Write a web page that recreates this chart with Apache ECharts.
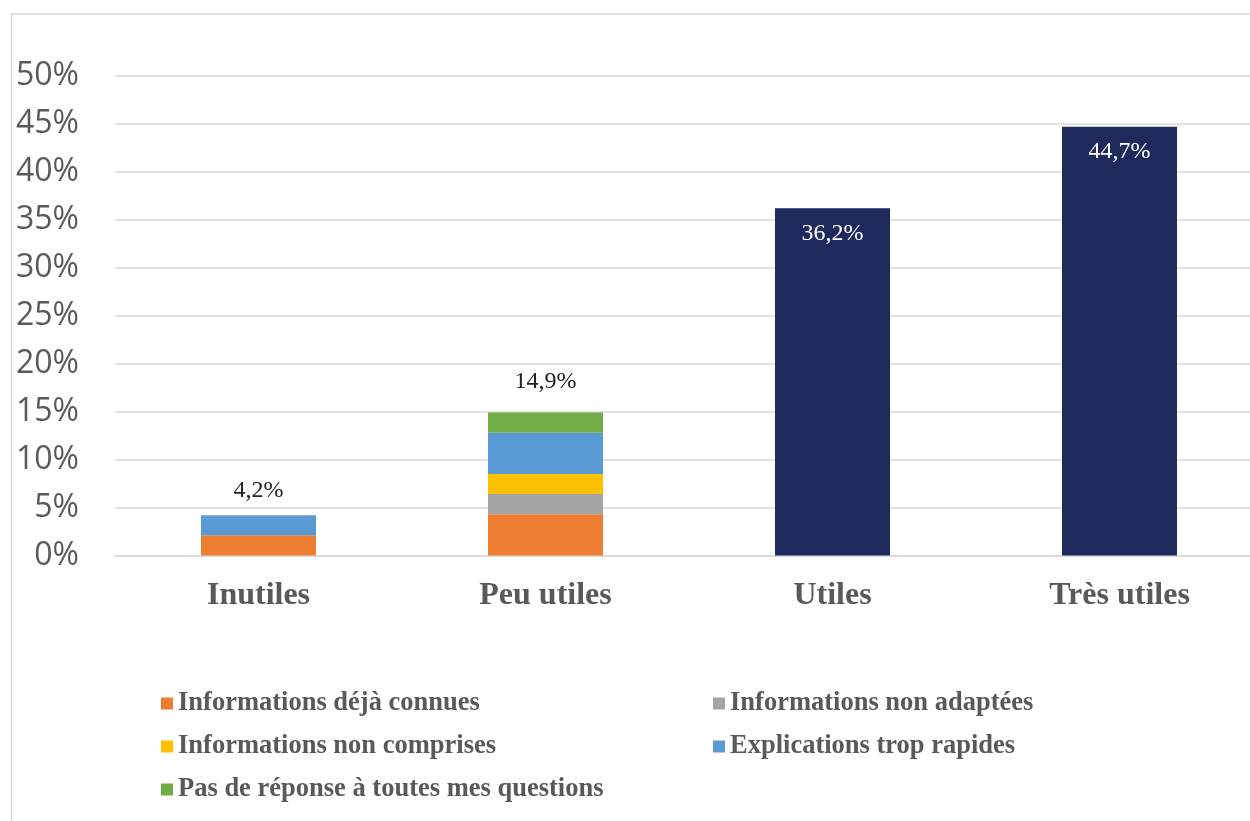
<!DOCTYPE html>
<html>
<head>
<meta charset="utf-8">
<script src="https://cdn.jsdelivr.net/npm/echarts@6/dist/echarts.min.js"></script>
<style>
  html, body { margin: 0; padding: 0; background: #fff; overflow: hidden; }
  #chart { width: 1265px; height: 821px; }
</style>
</head>
<body>
<div id="chart"></div>
<script>
// Appréciation des informations reçues (% des répondants)
const categories = ['Inutiles', 'Peu utiles', 'Utiles', 'Très utiles'];

// Motifs détaillés pour les réponses négatives (empilés)
const dejaConnues   = [2.1, 4.3, null, null];
const nonAdaptees   = [null, 2.1, null, null];
const nonComprises  = [null, 2.1, null, null];
const tropRapides   = [2.1, 4.3, null, null];
const pasDeReponse  = [null, 2.1, null, null];

// Totaux par catégorie
const totals = [4.2, 14.9, 36.2, 44.7];

const yTicks = { min: 0, max: 50, interval: 5 };

const colors = {
  deja: '#ED7D31',
  adapt: '#A5A5A5',
  compr: '#FFC000',
  rapid: '#5B9BD5',
  rep: '#70AD47',
  navy: '#1F2A5C'
};

const fmt = v => v.toFixed(1).replace('.', ',') + '%';

const serif = '"Liberation Serif", "Times New Roman", serif';
const BAR_W = 115;

function stackSeries(name, data, color) {
  return {
    name, type: 'bar', stack: 'motifs', data,
    barWidth: BAR_W,
    itemStyle: { color },
    emphasis: { disabled: true }
  };
}

const totalData = totals.map((v, i) => {
  const detailed = i < 2;
  return {
    value: v,
    itemStyle: { color: detailed ? 'rgba(0,0,0,0)' : colors.navy },
    label: detailed
      ? { position: 'top', color: '#222', distance: i === 0 ? 13 : 19 }
      : { position: 'insideTop', color: '#fff', distance: 13 }
  };
});

const legendCommon = {
  orient: 'vertical',
  icon: 'rect',
  itemWidth: 12,
  itemHeight: 12,
  itemGap: 16,
  selectedMode: false,
  textStyle: {
    fontFamily: serif, fontWeight: 'bold', fontSize: 26.5,
    color: '#595959', lineHeight: 26
  }
};

const chart = echarts.init(document.getElementById('chart'), null, { renderer: 'canvas' });
chart.setOption({
  animation: false,
  backgroundColor: '#fff',
  graphic: [{
    type: 'rect',
    shape: { x: 11.5, y: 14, width: 1400, height: 1000 },
    style: { fill: 'none', stroke: '#d9d9d9', lineWidth: 1.5 },
    silent: true
  }],
  grid: { left: 115, right: 2, top: 76, bottom: 265.5, containLabel: false },
  legend: [
    Object.assign({ left: 156, top: 685,
      data: ['Informations déjà connues', 'Informations non comprises', 'Pas de réponse à toutes mes questions'] }, legendCommon),
    Object.assign({ left: 708, top: 685,
      data: ['Informations non adaptées', 'Explications trop rapides'] }, legendCommon)
  ],
  xAxis: {
    type: 'category',
    data: categories,
    axisTick: { show: false },
    axisLine: { show: true, lineStyle: { color: '#d9d9d9', width: 1.5 } },
    axisLabel: {
      fontFamily: serif, fontWeight: 'bold', fontSize: 32,
      color: '#595959', margin: 24
    }
  },
  yAxis: {
    type: 'value',
    min: yTicks.min, max: yTicks.max, interval: yTicks.interval,
    axisLine: { show: false },
    axisTick: { show: false },
    splitLine: { lineStyle: { color: '#d9d9d9', width: 1.5 } },
    axisLabel: {
      formatter: '{value}%',
      fontFamily: '"Open Sans", sans-serif', fontSize: 32,
      color: '#595959', margin: 36
    }
  },
  series: [
    stackSeries('Informations déjà connues', dejaConnues, colors.deja),
    stackSeries('Informations non adaptées', nonAdaptees, colors.adapt),
    stackSeries('Informations non comprises', nonComprises, colors.compr),
    stackSeries('Explications trop rapides', tropRapides, colors.rapid),
    stackSeries('Pas de réponse à toutes mes questions', pasDeReponse, colors.rep),
    {
      name: 'Total', type: 'bar', data: totalData,
      barWidth: BAR_W, barGap: '-100%',
      z: 3,
      emphasis: { disabled: true },
      label: {
        show: true,
        fontFamily: serif, fontSize: 24,
        formatter: p => fmt(p.value)
      }
    }
  ]
});
</script>
</body>
</html>
